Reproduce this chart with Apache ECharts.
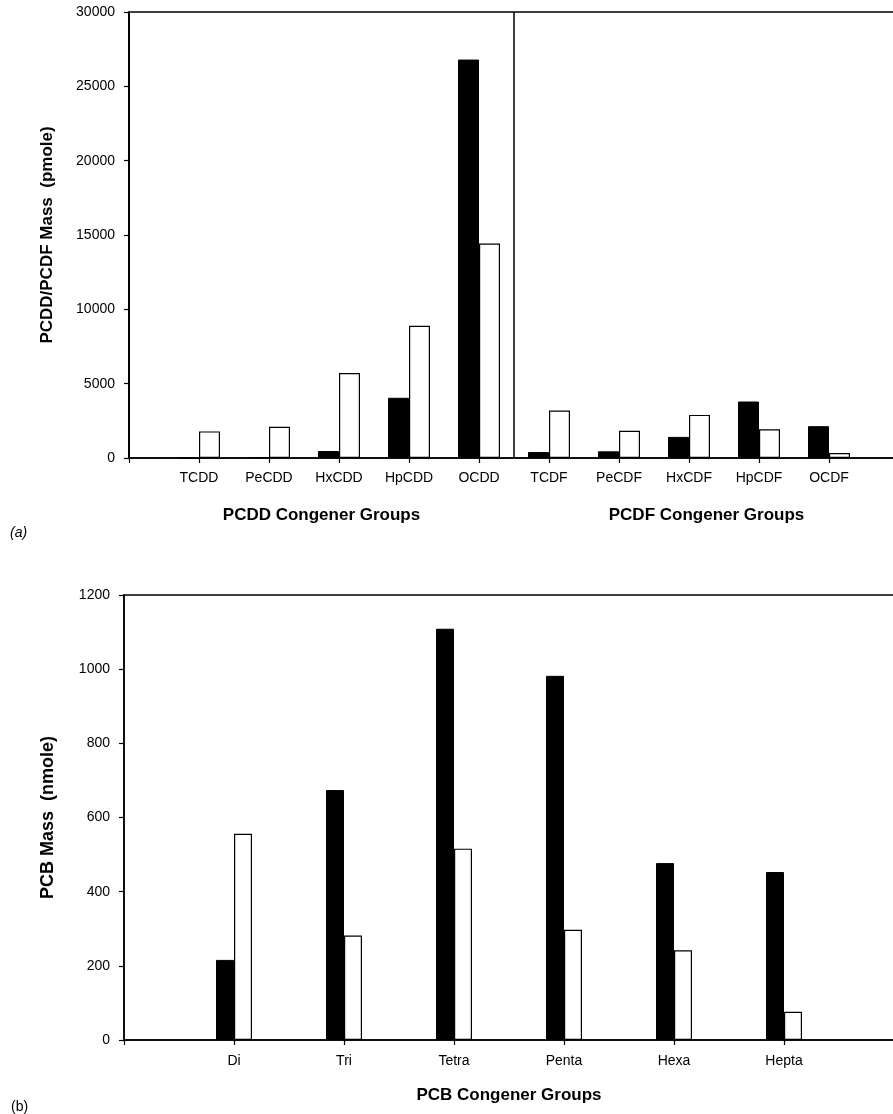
<!DOCTYPE html>
<html>
<head>
<meta charset="utf-8">
<script src="https://cdn.jsdelivr.net/npm/echarts@6/dist/echarts.min.js"></script>
<style>
  html, body { margin: 0; padding: 0; background: #fff; overflow: hidden; }
  #chart { width: 893px; height: 1114px; }
</style>
</head>
<body>
<div id="chart"></div>
<script>
// ---- Panel (a): PCDD/PCDF ----
const pcdCategories = ['TCDD', 'PeCDD', 'HxCDD', 'HpCDD', 'OCDD', 'TCDF', 'PeCDF', 'HxCDF', 'HpCDF', 'OCDF'];
const pcdBlack = [0, 60, 470, 4050, 26800, 400, 450, 1420, 3800, 2140];
const pcdWhite = [1790, 2100, 5720, 8890, 14430, 3190, 1830, 2900, 1930, 330];
const pcdGroups = ['PCDD Congener Groups', 'PCDF Congener Groups'];
const pcdTicks = { min: 0, max: 30000, interval: 5000 };

// ---- Panel (b): PCB ----
const pcbCategories = ['Di', 'Tri', 'Tetra', 'Penta', 'Hexa', 'Hepta'];
const pcbBlack = [216, 674, 1109, 982, 477, 453];
const pcbWhite = [556, 282, 516, 297, 242, 76];
const pcbTicks = { min: 0, max: 1200, interval: 200 };

const FONT = "'Liberation Sans', Arial, sans-serif";
const pad = arr => [null].concat(arr, [null]);
const plain = v => String(v);

const axisLineStyle = { color: '#000', width: 1.5 };

const chart = echarts.init(document.getElementById('chart'), null, { renderer: 'canvas' });

chart.setOption({
  animation: false,
  backgroundColor: '#fff',
  title: [
    { text: '(a)', left: 5, top: 521, textStyle: { fontFamily: FONT, fontSize: 14, fontStyle: 'italic', fontWeight: 'normal', color: '#000' } },
    { text: '(b)', left: 6, top: 1095, textStyle: { fontFamily: FONT, fontSize: 14, fontWeight: 'normal', color: '#000' } }
  ],
  grid: [
    { left: 129, top: 12, width: 770, height: 446, show: true, borderColor: '#000', borderWidth: 1.5, backgroundColor: 'transparent', containLabel: false, outerBoundsMode: 'none' },
    { left: 124, top: 595, width: 770, height: 445, show: true, borderColor: '#000', borderWidth: 1.5, backgroundColor: 'transparent', containLabel: false, outerBoundsMode: 'none' }
  ],
  xAxis: [
    {
      gridIndex: 0, type: 'category', position: 'bottom', boundaryGap: false,
      data: [''].concat(pcdCategories, ['']),
      axisLine: { show: true, lineStyle: axisLineStyle, onZero: false },
      axisTick: { show: true, inside: false, length: 5, interval: 0, lineStyle: { color: '#000', width: 1.2 } },
      axisLabel: { interval: 0, margin: 13, fontFamily: FONT, fontSize: 14, color: '#000' },
      splitLine: { show: false }
    },
    {
      gridIndex: 0, type: 'category', position: 'bottom', boundaryGap: true, offset: 0,
      data: pcdGroups,
      axisLine: { show: false },
      axisTick: { show: false },
      axisLabel: { interval: 0, margin: 49, fontFamily: FONT, fontSize: 17, fontWeight: 'bold', color: '#000' },
      splitLine: { show: true, interval: 0, lineStyle: { color: '#000', width: 1.5 } }
    },
    {
      gridIndex: 1, type: 'category', position: 'bottom', boundaryGap: false,
      data: [''].concat(pcbCategories, ['']),
      axisLine: { show: true, lineStyle: axisLineStyle, onZero: false },
      axisTick: { show: true, inside: false, length: 5, interval: 0, lineStyle: { color: '#000', width: 1.2 } },
      axisLabel: { interval: 0, margin: 14, fontFamily: FONT, fontSize: 14, color: '#000' },
      splitLine: { show: false },
      name: 'PCB Congener Groups', nameLocation: 'middle', nameGap: 47,
      nameTextStyle: { fontFamily: FONT, fontSize: 17, fontWeight: 'bold', color: '#000' }
    }
  ],
  yAxis: [
    {
      gridIndex: 0, type: 'value', min: pcdTicks.min, max: pcdTicks.max, interval: pcdTicks.interval,
      axisLine: { show: true, lineStyle: axisLineStyle },
      axisTick: { show: true, inside: false, length: 5, lineStyle: { color: '#000', width: 1.2 } },
      axisLabel: { margin: 14, fontFamily: FONT, fontSize: 14, color: '#000', formatter: plain },
      splitLine: { show: false },
      name: 'PCDD/PCDF Mass  (pmole)', nameLocation: 'middle', nameGap: 73,
      nameTextStyle: { fontFamily: FONT, fontSize: 17, fontWeight: 'bold', color: '#000' }
    },
    {
      gridIndex: 1, type: 'value', min: pcbTicks.min, max: pcbTicks.max, interval: pcbTicks.interval,
      axisLine: { show: true, lineStyle: axisLineStyle },
      axisTick: { show: true, inside: false, length: 5, lineStyle: { color: '#000', width: 1.2 } },
      axisLabel: { margin: 14, fontFamily: FONT, fontSize: 14, color: '#000', formatter: plain },
      splitLine: { show: false },
      name: 'PCB Mass  (nmole)', nameLocation: 'middle', nameGap: 67,
      nameTextStyle: { fontFamily: FONT, fontSize: 18, fontWeight: 'bold', color: '#000' }
    }
  ],
  series: [
    {
      type: 'bar', xAxisIndex: 0, yAxisIndex: 0, data: pad(pcdBlack),
      barWidth: 21, barGap: '0%',
      itemStyle: { color: '#000', borderColor: '#000', borderWidth: 1 }
    },
    {
      type: 'bar', xAxisIndex: 0, yAxisIndex: 0, data: pad(pcdWhite),
      barWidth: 21, barGap: '0%',
      itemStyle: { color: '#fff', borderColor: '#000', borderWidth: 1.2 }
    },
    {
      type: 'bar', xAxisIndex: 2, yAxisIndex: 1, data: pad(pcbBlack),
      barWidth: 18, barGap: '0%',
      itemStyle: { color: '#000', borderColor: '#000', borderWidth: 1 }
    },
    {
      type: 'bar', xAxisIndex: 2, yAxisIndex: 1, data: pad(pcbWhite),
      barWidth: 18, barGap: '0%',
      itemStyle: { color: '#fff', borderColor: '#000', borderWidth: 1.2 }
    }
  ]
});
</script>
</body>
</html>
